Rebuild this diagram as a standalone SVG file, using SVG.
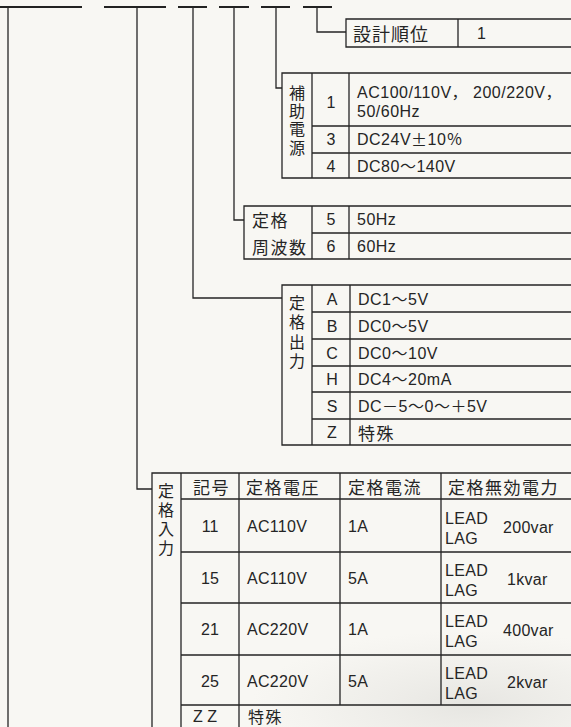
<svg xmlns="http://www.w3.org/2000/svg" width="571" height="727" viewBox="0 0 571 727">
<defs>
<radialGradient id="smudge" cx="0.5" cy="0.5" r="0.5">
<stop offset="0" stop-color="#a8a8a4" stop-opacity="0.22"/>
<stop offset="0.6" stop-color="#b8b8b3" stop-opacity="0.1"/>
<stop offset="1" stop-color="#c8c8c4" stop-opacity="0"/>
</radialGradient>
<style>
.ln{stroke:#252525;stroke-width:1.3;fill:none}
.dash{stroke:#222;stroke-width:2.2;fill:none}
.t{font-family:"Liberation Sans","Noto Sans CJK JP",sans-serif;font-size:16px;fill:#252525;letter-spacing:0.5px;dominant-baseline:central}
.j{font-family:"Noto Sans CJK JP",sans-serif;font-size:17px;fill:#252525;letter-spacing:1.5px;dominant-baseline:central}
.v{font-size:16px;letter-spacing:0}
.c{text-anchor:middle;letter-spacing:0}
.n{letter-spacing:0.3px}
.w{font-family:"Noto Sans CJK JP",sans-serif}
</style>
</defs>
<rect width="571" height="727" fill="#f8f7f3"/>
<ellipse cx="470" cy="705" rx="220" ry="75" fill="url(#smudge)"/>

<g id="connectors">
<path class="dash" d="M0 7H82M104 7H166M178 7H207M219 7H249M261 7H290M303 7H332"/>
<path class="ln" d="M8 7V727"/>
<path class="ln" d="M137 7V489H152"/>
<path class="ln" d="M193 7V298H282"/>
<path class="ln" d="M234 7V220H244"/>
<path class="ln" d="M276 7V88H282"/>
<path class="ln" d="M317 7V32H346"/>
</g>

<g id="design-order">
<path class="ln" d="M571 19H346V47H571M458 19V47"/>
<text class="j" x="353" y="33" style="font-size:18px;letter-spacing:1px">設計順位</text>
<text class="t" x="477" y="33">1</text>
</g>

<g id="aux-power">
<path class="ln" d="M571 73H282V178H571M312 73V178M349 73V178M312 126H571M312 153H571"/>
<text class="j v c" x="297"><tspan x="297" y="92">補</tspan><tspan x="297" y="110">助</tspan><tspan x="297" y="128">電</tspan><tspan x="297" y="147">源</tspan></text>
<text class="t c" x="331" y="102">1</text>
<text class="t" x="357" y="92">AC100/110V， 200/220V，</text>
<text class="t" x="357" y="111">50/60Hz</text>
<text class="t c" x="331" y="139">3</text>
<text class="t" x="357" y="139">DC24V<tspan class="w">±</tspan>10％</text>
<text class="t c" x="331" y="166">4</text>
<text class="t" x="357" y="166">DC80～140V</text>
</g>

<g id="rated-frequency">
<path class="ln" d="M571 206H244V259H571M312 206V259M349 206V259M312 233H571"/>
<text class="j" x="252" y="219">定格</text>
<text class="j" x="252" y="246">周波数</text>
<text class="t c" x="331" y="219">5</text>
<text class="t" x="357" y="219">50Hz</text>
<text class="t c" x="331" y="246">6</text>
<text class="t" x="357" y="246">60Hz</text>
</g>

<g id="rated-output">
<path class="ln" d="M571 285H282V445H571M312 285V445M350 285V445M312 312H571M312 339H571M312 366H571M312 392H571M312 419H571"/>
<text class="j v c" x="297"><tspan x="297" y="302">定</tspan><tspan x="297" y="321">格</tspan><tspan x="297" y="341">出</tspan><tspan x="297" y="360">力</tspan></text>
<text class="t c" x="332" y="299">A</text>
<text class="t" x="358" y="299">DC1～5V</text>
<text class="t c" x="332" y="326">B</text>
<text class="t" x="358" y="326">DC0～5V</text>
<text class="t c" x="332" y="353">C</text>
<text class="t" x="358" y="353">DC0～10V</text>
<text class="t c" x="332" y="379">H</text>
<text class="t" x="358" y="379">DC4～20mA</text>
<text class="t c" x="332" y="406">S</text>
<text class="t" x="358" y="406">DC－5～0～＋5V</text>
<text class="t c" x="332" y="432">Z</text>
<text class="j" x="358" y="432">特殊</text>
</g>

<g id="rated-input">
<path class="ln" d="M571 473H152V727M181 473V727M239 473V727M340 473V705M441 473V705M181 499H571M181 552H571M181 603H571M181 655H571M181 705H571"/>
<text class="j v c" x="166"><tspan x="166" y="490">定</tspan><tspan x="166" y="509">格</tspan><tspan x="166" y="528">入</tspan><tspan x="166" y="547">力</tspan></text>
<text class="j" x="193" y="486">記号</text>
<text class="j" x="246" y="486">定格電圧</text>
<text class="j" x="348" y="486">定格電流</text>
<text class="j" x="448" y="486">定格無効電力</text>

<text class="t c" x="210" y="526">11</text>
<text class="t n" x="247" y="526">AC110V</text>
<text class="t n" x="348" y="526">1A</text>
<text class="t n" x="445" y="518">LEAD</text>
<text class="t n" x="445" y="538">LAG</text>
<text class="t n" x="503" y="527">200var</text>

<text class="t c" x="210" y="578">15</text>
<text class="t n" x="247" y="578">AC110V</text>
<text class="t n" x="348" y="578">5A</text>
<text class="t n" x="445" y="570">LEAD</text>
<text class="t n" x="445" y="590">LAG</text>
<text class="t n" x="507" y="579">1kvar</text>

<text class="t c" x="210" y="629">21</text>
<text class="t n" x="247" y="629">AC220V</text>
<text class="t n" x="348" y="629">1A</text>
<text class="t n" x="445" y="621">LEAD</text>
<text class="t n" x="445" y="641">LAG</text>
<text class="t n" x="503" y="630">400var</text>

<text class="t c" x="210" y="681">25</text>
<text class="t n" x="247" y="681">AC220V</text>
<text class="t n" x="348" y="681">5A</text>
<text class="t n" x="445" y="673">LEAD</text>
<text class="t n" x="445" y="693">LAG</text>
<text class="t n" x="507" y="682">2kvar</text>

<text class="t c" x="205" y="716" style="letter-spacing:0">Z Z</text>
<text class="j" x="248" y="716" style="font-size:16px">特殊</text>
</g>
</svg>
